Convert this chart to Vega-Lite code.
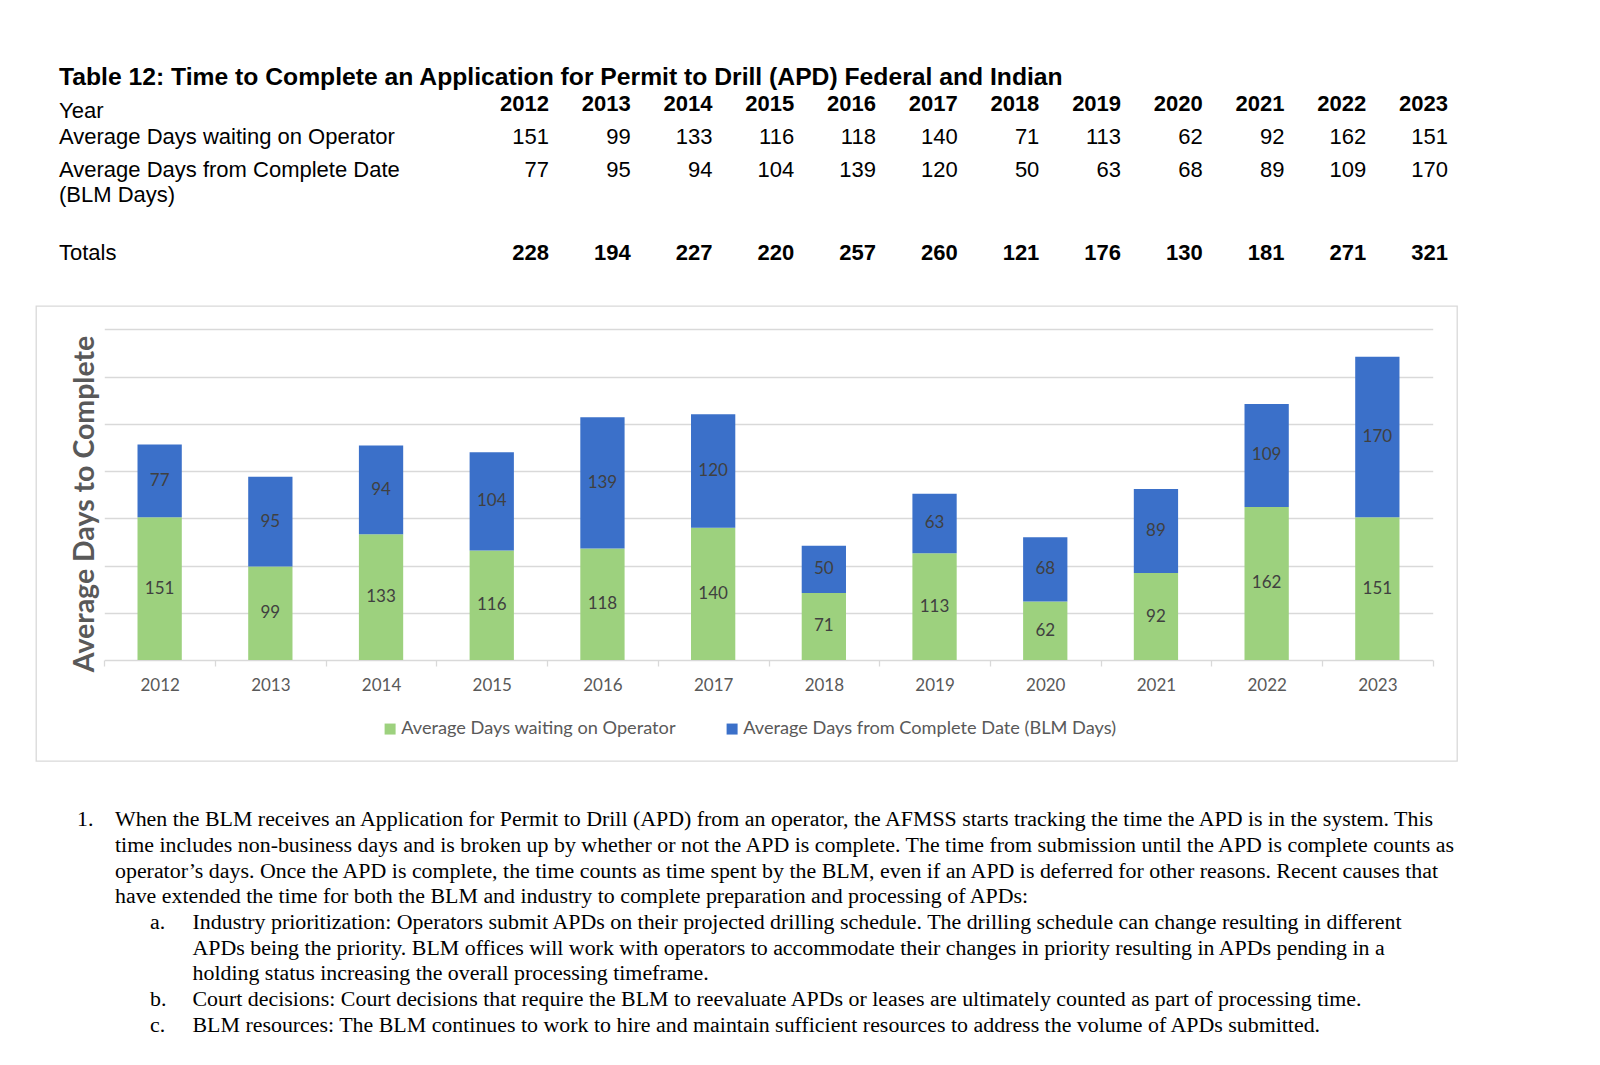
{
  "$schema": "https://vega.github.io/schema/vega-lite/v6.json",
  "background": "white",
  "padding": {"left": 35, "top": 0, "right": 0, "bottom": 0},
  "spacing": 0,
  "bounds": "flush",
  "datasets": {
    "apd": [
      {"Year": "2012", "Series": "Average Days waiting on Operator", "Days": 151},
      {"Year": "2013", "Series": "Average Days waiting on Operator", "Days": 99},
      {"Year": "2014", "Series": "Average Days waiting on Operator", "Days": 133},
      {"Year": "2015", "Series": "Average Days waiting on Operator", "Days": 116},
      {"Year": "2016", "Series": "Average Days waiting on Operator", "Days": 118},
      {"Year": "2017", "Series": "Average Days waiting on Operator", "Days": 140},
      {"Year": "2018", "Series": "Average Days waiting on Operator", "Days": 71},
      {"Year": "2019", "Series": "Average Days waiting on Operator", "Days": 113},
      {"Year": "2020", "Series": "Average Days waiting on Operator", "Days": 62},
      {"Year": "2021", "Series": "Average Days waiting on Operator", "Days": 92},
      {"Year": "2022", "Series": "Average Days waiting on Operator", "Days": 162},
      {"Year": "2023", "Series": "Average Days waiting on Operator", "Days": 151},
      {"Year": "2012", "Series": "Average Days from Complete Date (BLM Days)", "Days": 77},
      {"Year": "2013", "Series": "Average Days from Complete Date (BLM Days)", "Days": 95},
      {"Year": "2014", "Series": "Average Days from Complete Date (BLM Days)", "Days": 94},
      {"Year": "2015", "Series": "Average Days from Complete Date (BLM Days)", "Days": 104},
      {"Year": "2016", "Series": "Average Days from Complete Date (BLM Days)", "Days": 139},
      {"Year": "2017", "Series": "Average Days from Complete Date (BLM Days)", "Days": 120},
      {"Year": "2018", "Series": "Average Days from Complete Date (BLM Days)", "Days": 50},
      {"Year": "2019", "Series": "Average Days from Complete Date (BLM Days)", "Days": 63},
      {"Year": "2020", "Series": "Average Days from Complete Date (BLM Days)", "Days": 68},
      {"Year": "2021", "Series": "Average Days from Complete Date (BLM Days)", "Days": 89},
      {"Year": "2022", "Series": "Average Days from Complete Date (BLM Days)", "Days": 109},
      {"Year": "2023", "Series": "Average Days from Complete Date (BLM Days)", "Days": 170}
    ],
    "rowlabels": [
      {"row": "Year", "text": "Year"},
      {"row": "Average Days waiting on Operator", "text": "Average Days waiting on Operator"},
      {"row": "Average Days from Complete Date (BLM Days)", "text": "Average Days from Complete Date"},
      {"row": "(BLM Days)", "text": "(BLM Days)"},
      {"row": "Totals", "text": "Totals"}
    ],
    "lines": [
      {"line": 1, "level": "item", "marker": "1.", "text": "When the BLM receives an Application for Permit to Drill (APD) from an operator, the AFMSS starts tracking the time the APD is in the system. This"},
      {"line": 2, "level": "item", "marker": "", "text": "time includes non-business days and is broken up by whether or not the APD is complete. The time from submission until the APD is complete counts as"},
      {"line": 3, "level": "item", "marker": "", "text": "operator’s days. Once the APD is complete, the time counts as time spent by the BLM, even if an APD is deferred for other reasons. Recent causes that"},
      {"line": 4, "level": "item", "marker": "", "text": "have extended the time for both the BLM and industry to complete preparation and processing of APDs:"},
      {"line": 5, "level": "subitem", "marker": "a.", "text": "Industry prioritization: Operators submit APDs on their projected drilling schedule. The drilling schedule can change resulting in different"},
      {"line": 6, "level": "subitem", "marker": "", "text": "APDs being the priority. BLM offices will work with operators to accommodate their changes in priority resulting in APDs pending in a"},
      {"line": 7, "level": "subitem", "marker": "", "text": "holding status increasing the overall processing timeframe."},
      {"line": 8, "level": "subitem", "marker": "b.", "text": "Court decisions: Court decisions that require the BLM to reevaluate APDs or leases are ultimately counted as part of processing time."},
      {"line": 9, "level": "subitem", "marker": "c.", "text": "BLM resources: The BLM continues to work to hire and maintain sufficient resources to address the volume of APDs submitted."}
    ]
  },
  "vconcat": [
    {
      "width": 1421,
      "height": 306,
      "layer": [
        {
          "data": {"values": [{"row": "title", "text": "Table 12: Time to Complete an Application for Permit to Drill (APD) Federal and Indian"}]},
          "mark": {"type": "text", "align": "left", "baseline": "middle", "dy": 2, "font": "Liberation Sans", "fontSize": 24.7, "fontWeight": "bold", "color": "#000000"},
          "encoding": {
            "x": {"datum": "label", "type": "nominal", "scale": {"type": "point", "range": [23, 23], "padding": 0}, "axis": null},
            "y": {"field": "row", "type": "nominal", "scale": {"type": "point", "domain": ["title", "Year", "Average Days waiting on Operator", "Average Days from Complete Date (BLM Days)", "(BLM Days)", "gap", "Totals"], "range": [76.35, 253.5], "padding": 0}, "axis": null},
            "text": {"field": "text", "type": "nominal"}
          }
        },
        {
          "data": {"name": "rowlabels"},
          "transform": [{"filter": {"field": "row", "oneOf": ["Year", "Average Days from Complete Date (BLM Days)"]}}],
          "mark": {"type": "text", "align": "left", "baseline": "middle", "dy": 5, "font": "Liberation Sans", "fontSize": 22, "color": "#000000"},
          "encoding": {
            "x": {"datum": "label", "type": "nominal", "scale": {"type": "point", "range": [23, 23], "padding": 0}, "axis": null},
            "y": {"field": "row", "type": "nominal", "scale": {"type": "point", "domain": ["title", "Year", "Average Days waiting on Operator", "Average Days from Complete Date (BLM Days)", "(BLM Days)", "gap", "Totals"], "range": [76.35, 253.5], "padding": 0}, "axis": null},
            "text": {"field": "text", "type": "nominal"}
          }
        },
        {
          "data": {"name": "rowlabels"},
          "transform": [{"filter": {"field": "row", "oneOf": ["Average Days waiting on Operator"]}}],
          "mark": {"type": "text", "align": "left", "baseline": "middle", "dy": 2, "font": "Liberation Sans", "fontSize": 22, "color": "#000000"},
          "encoding": {
            "x": {"datum": "label", "type": "nominal", "scale": {"type": "point", "range": [23, 23], "padding": 0}, "axis": null},
            "y": {"field": "row", "type": "nominal", "scale": {"type": "point", "domain": ["title", "Year", "Average Days waiting on Operator", "Average Days from Complete Date (BLM Days)", "(BLM Days)", "gap", "Totals"], "range": [76.35, 253.5], "padding": 0}, "axis": null},
            "text": {"field": "text", "type": "nominal"}
          }
        },
        {
          "data": {"name": "rowlabels"},
          "transform": [{"filter": {"field": "row", "oneOf": ["(BLM Days)"]}}],
          "mark": {"type": "text", "align": "left", "baseline": "middle", "dy": 1, "font": "Liberation Sans", "fontSize": 22, "color": "#000000"},
          "encoding": {
            "x": {"datum": "label", "type": "nominal", "scale": {"type": "point", "range": [23, 23], "padding": 0}, "axis": null},
            "y": {"field": "row", "type": "nominal", "scale": {"type": "point", "domain": ["title", "Year", "Average Days waiting on Operator", "Average Days from Complete Date (BLM Days)", "(BLM Days)", "gap", "Totals"], "range": [76.35, 253.5], "padding": 0}, "axis": null},
            "text": {"field": "text", "type": "nominal"}
          }
        },
        {
          "data": {"name": "rowlabels"},
          "transform": [{"filter": {"field": "row", "oneOf": ["Totals"]}}],
          "mark": {"type": "text", "align": "left", "baseline": "middle", "dy": -1, "font": "Liberation Sans", "fontSize": 22, "color": "#000000"},
          "encoding": {
            "x": {"datum": "label", "type": "nominal", "scale": {"type": "point", "range": [23, 23], "padding": 0}, "axis": null},
            "y": {"field": "row", "type": "nominal", "scale": {"type": "point", "domain": ["title", "Year", "Average Days waiting on Operator", "Average Days from Complete Date (BLM Days)", "(BLM Days)", "gap", "Totals"], "range": [76.35, 253.5], "padding": 0}, "axis": null},
            "text": {"field": "text", "type": "nominal"}
          }
        },
        {
          "data": {"name": "apd"},
          "transform": [{"aggregate": [{"op": "sum", "field": "Days", "as": "Total"}], "groupby": ["Year"]}],
          "mark": {"type": "text", "align": "right", "baseline": "middle", "dy": -2, "font": "Liberation Sans", "fontSize": 22, "fontWeight": "bold", "color": "#000000"},
          "encoding": {
            "x": {"field": "Year", "type": "nominal", "scale": {"type": "point", "domain": ["2012","2013","2014","2015","2016","2017","2018","2019","2020","2021","2022","2023"], "range": [513, 1412], "padding": 0}, "axis": null},
            "y": {"datum": "Year", "type": "nominal", "scale": {"type": "point", "domain": ["title", "Year", "Average Days waiting on Operator", "Average Days from Complete Date (BLM Days)", "(BLM Days)", "gap", "Totals"], "range": [76.35, 253.5], "padding": 0}, "axis": null},
            "text": {"field": "Year", "type": "nominal"}
          }
        },
        {
          "data": {"name": "apd"},
          "transform": [{"filter": {"field": "Series", "equal": "Average Days waiting on Operator"}}],
          "mark": {"type": "text", "align": "right", "baseline": "middle", "dy": 2, "font": "Liberation Sans", "fontSize": 22, "color": "#000000"},
          "encoding": {
            "x": {"field": "Year", "type": "nominal", "scale": {"type": "point", "domain": ["2012","2013","2014","2015","2016","2017","2018","2019","2020","2021","2022","2023"], "range": [513, 1412], "padding": 0}, "axis": null},
            "y": {"field": "Series", "type": "nominal", "scale": {"type": "point", "domain": ["title", "Year", "Average Days waiting on Operator", "Average Days from Complete Date (BLM Days)", "(BLM Days)", "gap", "Totals"], "range": [76.35, 253.5], "padding": 0}, "axis": null},
            "text": {"field": "Days", "type": "quantitative"}
          }
        },
        {
          "data": {"name": "apd"},
          "transform": [{"filter": {"field": "Series", "equal": "Average Days from Complete Date (BLM Days)"}}],
          "mark": {"type": "text", "align": "right", "baseline": "middle", "dy": 5, "font": "Liberation Sans", "fontSize": 22, "color": "#000000"},
          "encoding": {
            "x": {"field": "Year", "type": "nominal", "scale": {"type": "point", "domain": ["2012","2013","2014","2015","2016","2017","2018","2019","2020","2021","2022","2023"], "range": [513, 1412], "padding": 0}, "axis": null},
            "y": {"field": "Series", "type": "nominal", "scale": {"type": "point", "domain": ["title", "Year", "Average Days waiting on Operator", "Average Days from Complete Date (BLM Days)", "(BLM Days)", "gap", "Totals"], "range": [76.35, 253.5], "padding": 0}, "axis": null},
            "text": {"field": "Days", "type": "quantitative"}
          }
        },
        {
          "data": {"name": "apd"},
          "transform": [{"aggregate": [{"op": "sum", "field": "Days", "as": "Total"}], "groupby": ["Year"]}],
          "mark": {"type": "text", "align": "right", "baseline": "middle", "dy": -1, "font": "Liberation Sans", "fontSize": 22, "fontWeight": "bold", "color": "#000000"},
          "encoding": {
            "x": {"field": "Year", "type": "nominal", "scale": {"type": "point", "domain": ["2012","2013","2014","2015","2016","2017","2018","2019","2020","2021","2022","2023"], "range": [513, 1412], "padding": 0}, "axis": null},
            "y": {"datum": "Totals", "type": "nominal", "scale": {"type": "point", "domain": ["title", "Year", "Average Days waiting on Operator", "Average Days from Complete Date (BLM Days)", "(BLM Days)", "gap", "Totals"], "range": [76.35, 253.5], "padding": 0}, "axis": null},
            "text": {"field": "Total", "type": "quantitative"}
          }
        }
      ],
      "resolve": {"scale": {"x": "independent"}}
    },
    {
      "width": 1421,
      "height": 455,
      "view": {"stroke": "#d9d9d9", "strokeWidth": 1.3},
      "data": {"name": "apd"},
      "encoding": {
        "x": {
          "field": "Year",
          "type": "nominal",
          "scale": {"type": "band", "range": [68.3, 1396.7], "paddingInner": 0, "paddingOuter": 0},
          "axis": {
            "orient": "bottom",
            "offset": -101,
            "title": null,
            "labelAngle": 0,
            "labelFont": "Lato",
            "labelFontSize": 17,
            "labelColor": "#595959",
            "labelPadding": 11,
            "domainColor": "#d9d9d9",
            "domainWidth": 1.3,
            "tickColor": "#d9d9d9",
            "tickWidth": 1.3,
            "tickSize": 6,
            "tickBand": "extent",
            "grid": false
          }
        }
      },
      "layer": [
        {
          "mark": {"type": "bar", "width": {"band": 0.4}},
          "encoding": {
            "y": {
              "field": "Days",
              "type": "quantitative",
              "stack": "zero",
              "scale": {"domain": [0, 350], "range": [354, 23.3], "nice": false},
              "axis": {
                "title": "Average Days to Complete",
                "values": [50, 100, 150, 200, 250, 300, 350],
                "labels": false,
                "ticks": false,
                "domain": false,
                "grid": true,
                "gridColor": "#d9d9d9",
                "gridWidth": 1.3,
                "titleFont": "Lato",
                "titleFontSize": 28.5,
                "titleFontWeight": "bold",
                "titleColor": "#595959",
                "titleX": 48.5,
                "titleY": 197.5,
                "titleAngle": 270,
                "titleAlign": "center",
                "titleBaseline": "middle"
              }
            },
            "color": {
              "field": "Series",
              "type": "nominal",
              "scale": {"domain": ["Average Days waiting on Operator", "Average Days from Complete Date (BLM Days)"], "range": ["#9dd17e", "#3b70c9"]},
              "legend": {
                "title": null,
                "orient": "none",
                "legendX": 345,
                "legendY": 719.6,
                "direction": "horizontal",
                "symbolType": "square",
                "symbolSize": 121,
                "symbolStrokeWidth": 0,
                "labelFont": "Lato",
                "labelFontSize": 18.2,
                "labelColor": "#595959",
                "labelLimit": 600,
                "labelOffset": 2,
                "columnPadding": 47
              }
            },
            "order": {"field": "Series", "sort": "descending"}
          }
        },
        {
          "transform": [
            {"stack": "Days", "groupby": ["Year"], "sort": [{"field": "Series", "order": "descending"}], "as": ["y0", "y1"]},
            {"fold": ["y0", "y1"], "as": ["edge", "edgeValue"]},
            {"aggregate": [{"op": "sum", "field": "edgeValue", "as": "edgeSum"}], "groupby": ["Year", "Series", "Days"]}
          ],
          "mark": {"type": "text", "font": "Lato", "fontSize": 17, "color": "#404040", "baseline": "middle"},
          "encoding": {
            "y": {"field": "edgeSum", "type": "quantitative", "scale": {"domain": [0, 700], "range": [354, 23.3], "nice": false}, "axis": null},
            "text": {"field": "Days", "type": "quantitative"}
          }
        }
      ],
      "resolve": {"scale": {"y": "independent"}}
    },
    {
      "width": 1421,
      "height": 285,
      "data": {"name": "lines"},
      "layer": [
        {
          "transform": [{"filter": {"field": "marker", "oneOf": ["1.", "a.", "b.", "c."]}}],
          "mark": {"type": "text", "align": "left", "baseline": "middle", "font": "Liberation Serif", "fontSize": 21.9, "color": "#000000"},
          "encoding": {
            "x": {"field": "level", "type": "nominal", "scale": {"type": "point", "domain": ["item", "subitem"], "range": [41, 114], "padding": 0}, "axis": null},
            "y": {"field": "line", "type": "ordinal", "scale": {"type": "point", "range": [58.4, 263.5], "padding": 0}, "axis": null},
            "text": {"field": "marker", "type": "nominal"}
          }
        },
        {
          "mark": {"type": "text", "align": "left", "baseline": "middle", "font": "Liberation Serif", "fontSize": 21.9, "color": "#000000"},
          "encoding": {
            "x": {"field": "level", "type": "nominal", "scale": {"type": "point", "domain": ["item", "subitem"], "range": [79, 156.5], "padding": 0}, "axis": null},
            "y": {"field": "line", "type": "ordinal", "scale": {"type": "point", "range": [58.4, 263.5], "padding": 0}, "axis": null},
            "text": {"field": "text", "type": "nominal"}
          }
        }
      ],
      "resolve": {"scale": {"x": "independent"}}
    }
  ],
  "config": {
    "view": {"stroke": null},
    "font": "Liberation Sans"
  }
}
